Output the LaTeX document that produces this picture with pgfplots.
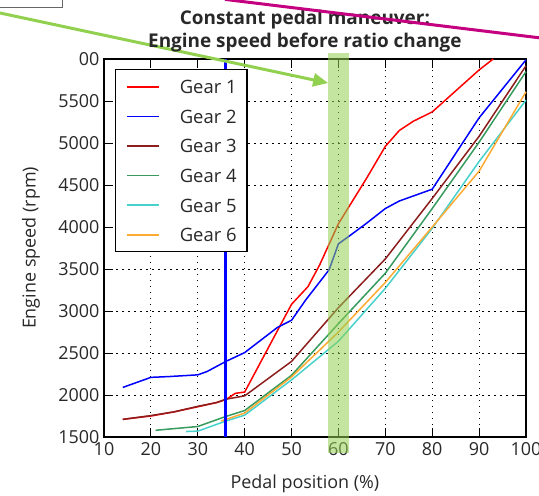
\documentclass[border=0pt]{standalone}
\usepackage{pgfplots}
\pgfplotsset{compat=1.18}
\usepackage{fontspec}
\setmainfont{Open Sans}
\usetikzlibrary{arrows.meta}
\definecolor{gone}{RGB}{255,0,0}
\definecolor{gtwo}{RGB}{0,0,255}
\definecolor{gthree}{RGB}{140,30,30}
\definecolor{gfour}{RGB}{55,155,95}
\definecolor{gfive}{RGB}{72,209,204}
\definecolor{gsix}{RGB}{255,170,50}
\definecolor{lgreen}{RGB}{146,208,80}
\definecolor{magline}{RGB}{196,0,128}
\definecolor{txt}{RGB}{40,40,40}
\begin{document}
\begin{tikzpicture}
\useasboundingbox (0,0) rectangle (539bp,-496bp);
\begin{axis}[
 at={(104bp,-437bp)}, anchor=south west,
 width=422bp, height=378bp, scale only axis,
 xmin=10, xmax=100, ymin=1500, ymax=6000,
 clip=false,
 xtick={10,20,...,100}, ytick={1500,2000,...,6000},
 yticklabels={1500,2000,2500,3000,3500,4000,4500,5000,5500,00},
 /pgf/number format/assume math mode=true,
 /pgf/number format/1000 sep={},
 tick align=inside, xtick pos=both, ytick pos=both,
 major tick length=9bp,
 tick style={black, line width=1bp},
 axis line style={black, line width=1.6bp},
 grid=major,
 major grid style={black, line width=0.8bp, dash pattern=on 1.5bp off 4.5bp},
 ticklabel style={font=\fontsize{18}{21}\selectfont, text=txt},
 xticklabel style={yshift=-2bp},
 yticklabel style={xshift=-1bp},
 xlabel={Pedal position (\%)},
 ylabel={Engine speed (rpm)},
 label style={font=\fontsize{18}{21}\selectfont, text=txt},
 xlabel style={at={(axis description cs:0.476,-0.124)}, anchor=center},
 ylabel style={at={(axis description cs:-0.173,0.5)}, anchor=center},
 title={Constant pedal maneuver:\\Engine speed before ratio change},
 title style={at={(axis description cs:0.476,1.058)}, anchor=center, align=center,
   font=\fontsize{19}{23}\selectfont\bfseries, text=txt},
 legend style={at={(0.026,0.9735)}, anchor=north west, draw=black, line width=1.4bp,
   fill=white, font=\fontsize{18.5}{22}\selectfont,
   inner xsep=10.5bp, inner ysep=10bp, row sep=15.6bp,
   nodes={inner sep=0pt, text height=14bp, text depth=0pt, text=txt}},
 legend cell align=left,
 legend image code/.code={\draw[#1, line width=1.6bp] (0bp,0bp) -- (32bp,0bp);},
 /tikz/every odd column/.append style={column sep=20bp},
]
\addplot[gone, line width=1.5bp] coordinates {
 (14,1710) (20,1750) (25,1800) (30,1860) (34,1910) (36,1945) (38,2020) (40,2035)
 (50,3080) (53.5,3290) (56,3550) (60,4040) (66,4580) (70,4960) (73,5150) (76,5260)
 (80,5370) (86,5670) (90,5870) (93,6000)};
\addlegendentry{Gear 1}
\addplot[gtwo, line width=1.5bp] coordinates {
 (14,2090) (20,2210) (24,2220) (30,2240) (32,2280) (36,2400) (40,2505) (47,2805)
 (50,2890) (53,3130) (58,3490) (60,3800) (62.5,3900) (66,4045) (70,4220) (73,4310)
 (80,4450) (90,5300) (100,5990)};
\addlegendentry{Gear 2}
\addplot[gthree, line width=1.5bp] coordinates {
 (14,1710) (20,1755) (25,1800) (30,1865) (34,1910) (36,1950) (40,1990) (50,2400)
 (60,3040) (70,3620) (80,4340) (90,5080) (100,5920)};
\addlegendentry{Gear 3}
\addplot[gfour, line width=1.5bp] coordinates {
 (21,1580) (30,1625) (36,1745) (40,1815) (50,2235) (60,2850) (70,3450) (80,4220)
 (90,5010) (100,5850)};
\addlegendentry{Gear 4}
\addplot[gfive, line width=1.5bp] coordinates {
 (27.5,1565) (30,1570) (36,1690) (40,1760) (50,2180) (60,2640) (70,3270) (80,3985)
 (90,4780) (100,5510)};
\addlegendentry{Gear 5}
\addplot[gsix, line width=1.5bp] coordinates {
 (35,1690) (40,1785) (50,2215) (60,2750) (70,3340) (80,4000) (90,4665) (100,5610)};
\addlegendentry{Gear 6}
\addplot[gtwo, line width=3bp, forget plot] coordinates {(36,1500) (36,6000)};
\fill[lgreen, opacity=0.55] (axis cs:57.7,1310) rectangle (axis cs:62.2,6070);
\draw[lgreen, line width=3bp, -{Triangle[length=15bp,width=13bp]}]
  (axis cs:-13.2,6560) -- (axis cs:57.8,5714);
\end{axis}
\draw[black!60, line width=1bp] (-5bp,5bp) rectangle (62bp,-7bp);
\draw[magline, line width=3bp] (225bp,0.6bp) -- (545bp,-38.5bp);
\end{tikzpicture}
\end{document}
